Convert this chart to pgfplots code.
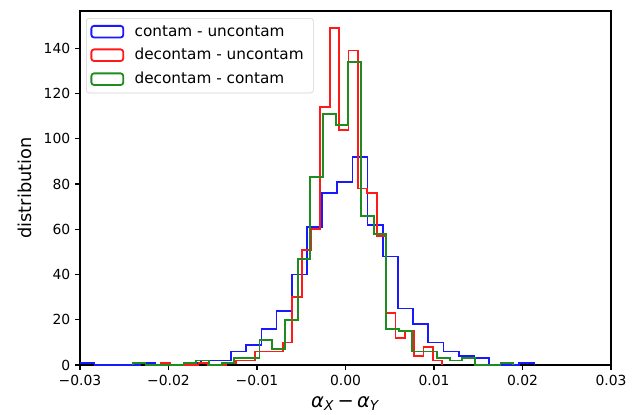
\documentclass[border=0pt]{standalone}
\usepackage{pgfplots}
\pgfplotsset{compat=1.18}
\usepackage{fontspec}
\setmainfont{DejaVu Sans}

% histogram outlines: first row (left edge, 0), then (bin left edge, count), last row (right edge, 0)
\pgfplotstableread{
x y
-0.03007 0
-0.03007 1
-0.02836 0
-0.02664 0
-0.02493 0
-0.02321 1
-0.02150 0
-0.01979 0
-0.01807 1
-0.01636 2
-0.01464 2
-0.01293 6
-0.01122 9
-0.00950 16
-0.00779 24
-0.00607 40
-0.00436 61
-0.00265 76
-0.00093 81
0.00078 92
0.00249 62
0.00421 48
0.00592 25
0.00764 18
0.00935 10
0.01106 6
0.01278 4
0.01449 3
0.01621 0
0.01792 0
0.01963 1
0.02135 0
}\contamuncontam
\pgfplotstableread{
x y
-0.02086 0
-0.02086 1
-0.01980 0
-0.01874 0
-0.01768 0
-0.01662 1
-0.01556 0
-0.01450 0
-0.01344 1
-0.01238 2
-0.01132 2
-0.01026 6
-0.00920 6
-0.00814 6
-0.00708 10
-0.00602 30
-0.00496 51
-0.00390 60
-0.00284 114
-0.00178 149
-0.00072 104
0.00034 139
0.00140 78
0.00246 76
0.00352 57
0.00458 23
0.00564 12
0.00670 15
0.00776 4
0.00882 8
0.00988 2
0.01094 0
}\decontamuncontam
\pgfplotstableread{
x y
-0.02403 0
-0.02403 1
-0.02259 0
-0.02116 0
-0.01973 0
-0.01830 1
-0.01687 2
-0.01544 0
-0.01400 1
-0.01257 3
-0.01114 3
-0.00971 11
-0.00828 7
-0.00684 20
-0.00541 47
-0.00398 83
-0.00255 111
-0.00112 106
0.00032 134
0.00175 66
0.00318 58
0.00461 16
0.00604 15
0.00747 6
0.00891 6
0.01034 3
0.01177 2
0.01320 3
0.01463 0
0.01606 0
0.01750 1
0.01893 0
}\decontamcontam

\definecolor{mblue}{RGB}{25,25,255}
\definecolor{mred}{RGB}{255,25,25}
\definecolor{mgreen}{RGB}{30,140,30}

\begin{document}
\begin{tikzpicture}
\useasboundingbox (-57.6pt,-35.3pt) rectangle (405.3pt,262.8pt);
\begin{axis}[
    at={(0pt,0pt)}, anchor=south west,
    scale only axis,
    width=382.3pt, height=254.9pt,
    xmin=-0.03, xmax=0.03,
    ymin=0, ymax=156.45,
    scaled x ticks=false,
    xtick={-0.03,-0.02,-0.01,0,0.01,0.02,0.03},
    xticklabels={−0.03,−0.02,−0.01,0.00,0.01,0.02,0.03},
    ytick={0,20,40,60,80,100,120,140},
    tick align=outside,
    xtick pos=bottom, ytick pos=left,
    major tick length=3.5pt,
    every tick/.style={black, line width=0.8pt},
    axis line style={line width=1pt},
    /pgf/number format/assume math mode=true,
    tick label style={font=\fontsize{10}{12}\selectfont},
    xlabel={\textit{α}\textsubscript{\textit{X}}\,−\,\textit{α}\textsubscript{\textit{Y}}},
    ylabel={distribution},
    xlabel style={font=\fontsize{14}{16}\selectfont, yshift=-1pt},
    ylabel style={font=\fontsize{12.8}{15}\selectfont, yshift=2pt},
    legend style={at={(0.0113,0.980)}, anchor=north west,
        draw=black!18, rounded corners=2pt, fill=white,
        fill opacity=0.8, text opacity=1,
        font=\fontsize{11}{13}\selectfont,
        row sep=3.4pt, inner xsep=3pt, inner ysep=3pt,
        cells={anchor=west},
        nodes={inner xsep=4pt}},
    legend image code/.code={\draw[#1] (0pt,-4.2pt) rectangle (23pt,4.2pt);
        \path (26.5pt,0pt);},
]
\addplot[const plot, mblue, line width=1.3pt] table {\contamuncontam};
\addlegendentry{contam - uncontam}
\addplot[const plot, mred, line width=1.3pt] table {\decontamuncontam};
\addlegendentry{decontam - uncontam}
\addplot[const plot, mgreen, line width=1.3pt] table {\decontamcontam};
\addlegendentry{decontam - contam}
\end{axis}
\end{tikzpicture}
\end{document}
